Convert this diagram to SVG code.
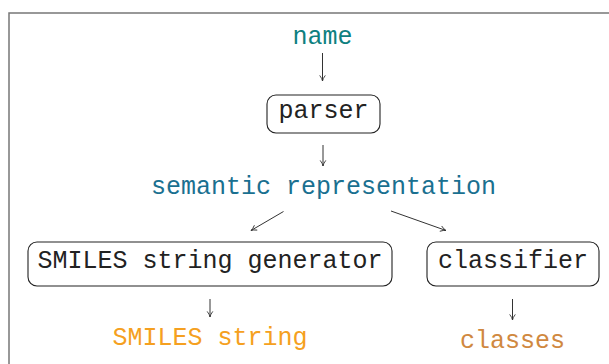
<svg xmlns="http://www.w3.org/2000/svg" width="609" height="364" viewBox="0 0 609 364">
<style>
text{font-family:"Liberation Mono","DejaVu Sans Mono",monospace;font-size:25px;text-anchor:middle}
.box{fill:#fff;stroke:#222;stroke-width:1.1}
.lbl{fill:#222}
.edge{stroke:#333;stroke-width:1;fill:none;marker-end:url(#ah)}
</style>
<defs>
<marker id="ah" viewBox="0 0 10 10" refX="9" refY="5" markerWidth="8" markerHeight="8" markerUnits="userSpaceOnUse" orient="auto">
<path d="M2,1.5 Q6,4.5 9,5 Q6,5.5 2,8.5" fill="none" stroke="#333" stroke-width="1.1"/>
</marker>
</defs>
<rect x="0" y="0" width="609" height="364" fill="#fff"/>
<path d="M9,364 V13 H609" fill="none" stroke="#777" stroke-width="1.5"/>
<g id="name"><text x="322.5" y="44" fill="#0e8080">name</text></g>
<g id="parser"><rect class="box" x="267" y="95" width="113" height="38" rx="9"/><text class="lbl" x="323.5" y="118">parser</text></g>
<g id="semantic"><text x="323.5" y="194" fill="#1a7090">semantic representation</text></g>
<g id="smiles-gen"><rect class="box" x="28" y="242" width="364" height="44" rx="9"/><text class="lbl" x="210" y="268">SMILES string generator</text></g>
<g id="classifier"><rect class="box" x="427" y="242" width="172" height="44" rx="9"/><text class="lbl" x="513" y="268">classifier</text></g>
<g id="smiles-string"><text x="210" y="345" fill="#f5a020">SMILES string</text></g>
<g id="classes"><text x="512.5" y="348" fill="#d08840">classes</text></g>
<g id="connectors">
<line class="edge" x1="322.5" y1="53" x2="322.5" y2="81"/>
<line class="edge" x1="323" y1="145" x2="323" y2="166"/>
<line class="edge" x1="283.5" y1="211.5" x2="251" y2="230.5"/>
<line class="edge" x1="391" y1="211" x2="446" y2="230.5"/>
<line class="edge" x1="210" y1="299" x2="210" y2="317"/>
<line class="edge" x1="512.5" y1="299" x2="512.5" y2="320"/>
</g>
</svg>
